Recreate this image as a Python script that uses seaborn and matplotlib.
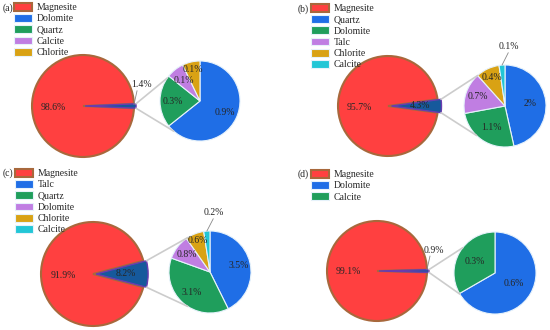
import numpy as np
import matplotlib
matplotlib.use("Agg")
import matplotlib.pyplot as plt
from matplotlib.patches import ConnectionPatch
import seaborn as sns

# composition data (percent)
panel_names = ['(a)', '(b)', '(c)', '(d)']
magnesite = [98.6, 95.7, 91.9, 99.1]
others = [1.4, 4.3, 8.2, 0.9]

a_minerals = ['Dolomite', 'Quartz', 'Calcite', 'Chlorite']
a_values = [0.9, 0.3, 0.1, 0.1]
b_minerals = ['Quartz', 'Dolomite', 'Talc', 'Chlorite', 'Calcite']
b_values = [2, 1.1, 0.7, 0.4, 0.1]
c_minerals = ['Talc', 'Quartz', 'Dolomite', 'Chlorite', 'Calcite']
c_values = [3.5, 3.1, 0.8, 0.6, 0.2]
d_minerals = ['Dolomite', 'Calcite']
d_values = [0.6, 0.3]

minerals = [a_minerals, b_minerals, c_minerals, d_minerals]
values = [a_values, b_values, c_values, d_values]

# colours
red = '#ff4040'
red_edge = '#a8683c'
other_col = '#16599c'
other_edge = '#6a3cb0'
small_cols = sns.color_palette(['#1f6ee6', '#1f9e5c', '#c07ee2', '#d9a214', '#22c6d6'])

# layout in pixels (figure is 550x330)
W, H = 550, 330
big_pos = [(83, 106, 51), (388, 106, 50), (93, 274, 52), (377, 271, 50)]
small_pos = [(200, 101, 40), (505, 106, 41), (210, 272, 41), (495, 273, 41)]
legend_pos = [(14, 3), (311, 4), (15, 169), (311, 170)]
tag_pos = [(3, 8), (298, 9), (3, 173), (298, 174)]
explode = [0.04, 0.07, 0.06, 0.04]
conn_angles = [(145, 229), (132, 226), (123, 237), (142, 211)]
outside_big = [True, False, False, True]
label_dist = [[0.68, 0.68, 0.64, 0.8],
              [0.62, 0.62, 0.7, 0.77, None],
              [0.73, 0.66, 0.7, 0.82, None],
              [0.52, 0.58]]

sns.set_theme(style='white')
plt.rcParams['font.family'] = ['Liberation Serif', 'DejaVu Serif']
FS = 7

fig = plt.figure(figsize=(W / 100, H / 100), dpi=100)


def add_pie_axes(cx, cy, r, pad=1.6):
    ax = fig.add_axes([(cx - r * pad) / W, 1 - (cy + r * pad) / H,
                       2 * r * pad / W, 2 * r * pad / H])
    ax.axis('off')
    return ax


for i in range(4):
    ax_big = add_pie_axes(*big_pos[i])
    ax_small = add_pie_axes(*small_pos[i])

    mag, oth = magnesite[i], others[i]
    frac = oth / 100
    wedges_big, _ = ax_big.pie([mag, oth], colors=[red, other_col],
                               startangle=180 * frac, counterclock=True,
                               explode=[0, explode[i]], radius=1)
    wedges_big[0].set_edgecolor(red_edge)
    wedges_big[0].set_linewidth(1.5)
    wedges_big[1].set_edgecolor(other_edge)
    wedges_big[1].set_linewidth(1.0)
    ax_big.set_xlim(-1.6, 1.6)
    ax_big.set_ylim(-1.6, 1.6)

    ax_big.text(-0.58, -0.02, f'{mag:g}%', ha='center', va='center', fontsize=FS)
    if outside_big[i]:
        ax_big.text(1.14, 0.42, f'{oth:g}%', ha='center', va='center', fontsize=FS)
        ax_big.plot([1.0, 1.06], [0.03, 0.3], color='#888888', lw=0.6)
    else:
        ax_big.text(0.58 + explode[i], 0.0, f'{oth:g}%', ha='center', va='center', fontsize=FS)

    # breakdown pie
    vals = np.array(values[i], dtype=float)
    cols = small_cols[:len(vals)]
    wedges_small, _ = ax_small.pie(vals, colors=cols, startangle=90, counterclock=False,
                                   radius=1, wedgeprops=dict(edgecolor='#e6f2fb', linewidth=0.8))
    ax_small.set_xlim(-1.6, 1.6)
    ax_small.set_ylim(-1.6, 1.6)
    total = vals.sum()
    mids = 90 - 360 * (np.cumsum(vals) - vals / 2) / total
    for k, (v, ang) in enumerate(zip(vals, mids)):
        t = np.deg2rad(ang)
        d = label_dist[i][k]
        if d is None:
            ax_small.text(0.1, 1.45, f'{v:g}%', ha='center', va='center', fontsize=FS)
            ax_small.plot([np.cos(t), 0.08], [np.sin(t), 1.3], color='#888888', lw=0.6)
            continue
        ax_small.text(d * np.cos(t), d * np.sin(t), f'{v:g}%', ha='center', va='center', fontsize=FS)

    # connection lines
    half = np.deg2rad(180 * frac)
    ex = explode[i]
    for sgn, ang in zip([1, -1], conn_angles[i]):
        xa = np.cos(half) + ex
        ya = sgn * np.sin(half)
        tb = np.deg2rad(ang)
        con = ConnectionPatch(xyA=(xa, ya), coordsA=ax_big.transData,
                              xyB=(np.cos(tb), np.sin(tb)), coordsB=ax_small.transData,
                              color='#cccccc', lw=1.2)
        fig.add_artist(con)

    # legend
    handles = [wedges_big[0]] + list(wedges_small)
    labels = ['Magnesite'] + minerals[i]
    lx, ly = legend_pos[i]
    fig.legend(handles, labels, loc='upper left', bbox_to_anchor=(lx / W, 1 - ly / H),
               frameon=False, fontsize=FS, handlelength=1.9, handleheight=0.85,
               labelspacing=0.2, borderpad=0, borderaxespad=0, handletextpad=0.4)
    tx, ty = tag_pos[i]
    fig.text(tx / W, 1 - ty / H, panel_names[i], ha='left', va='center', fontsize=FS)

fig.savefig('out.png', dpi=100)
